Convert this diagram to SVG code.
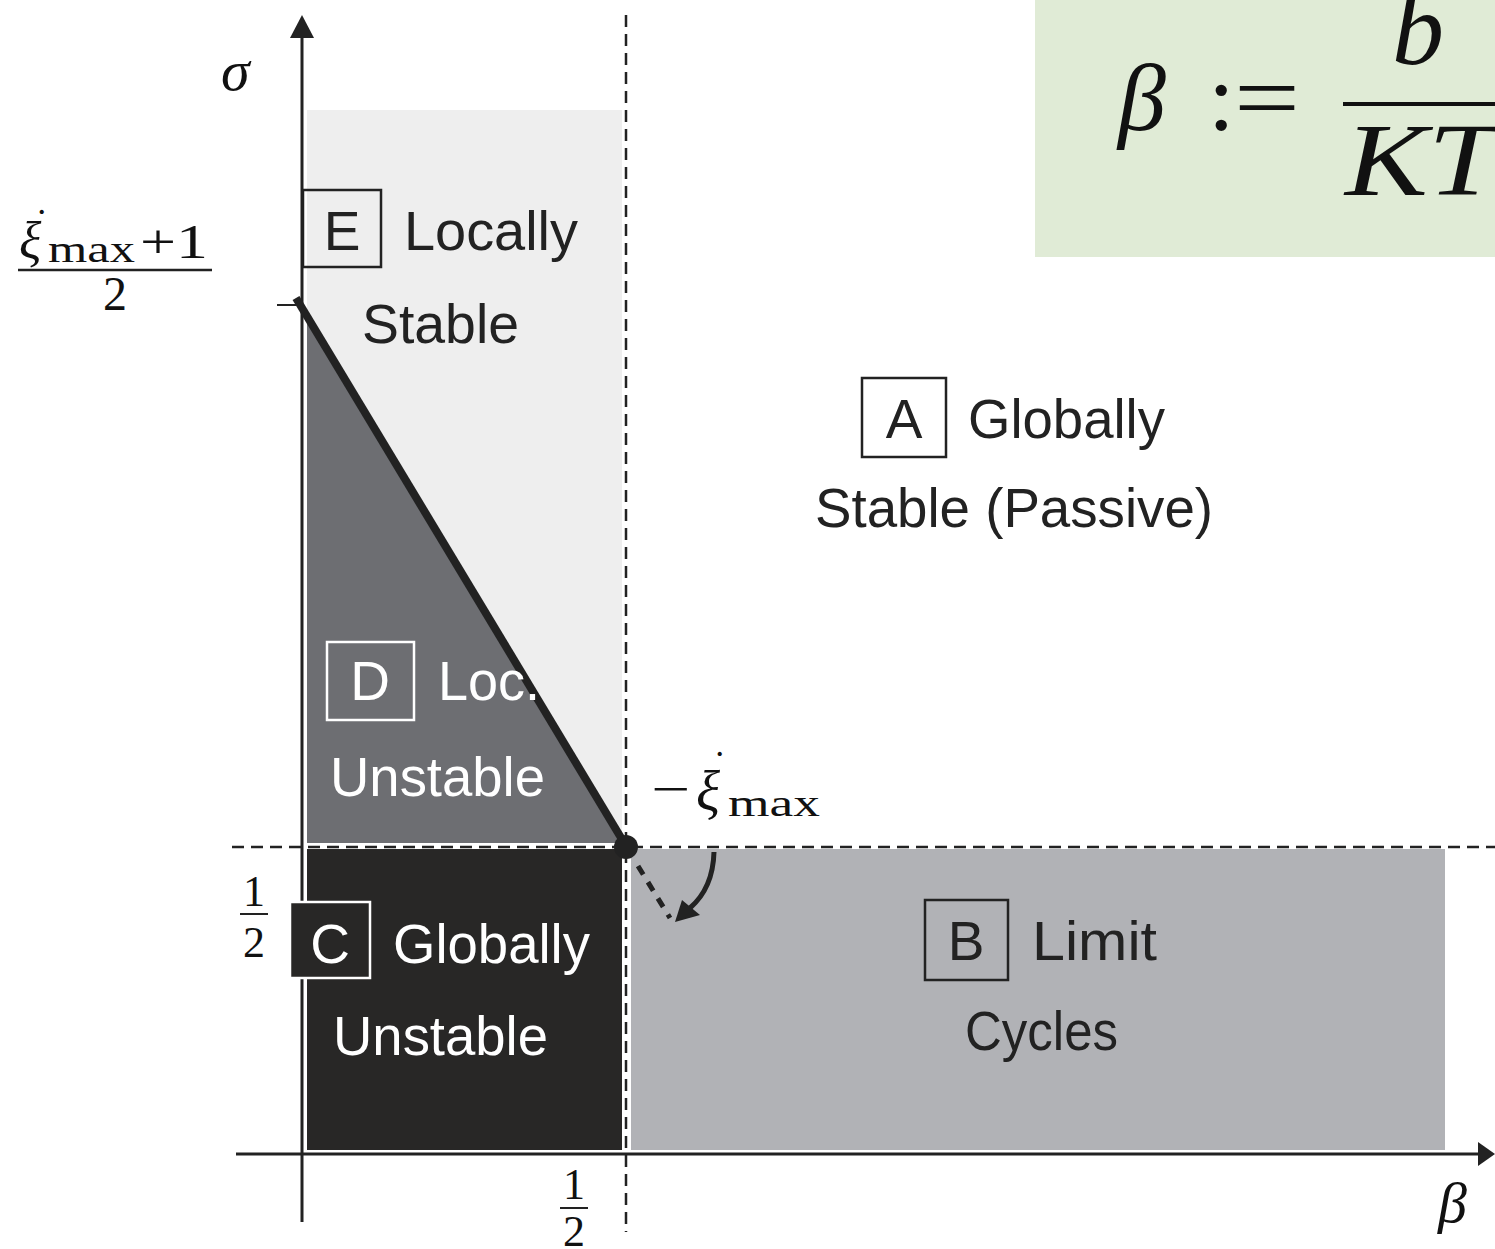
<svg xmlns="http://www.w3.org/2000/svg" width="1495" height="1249" viewBox="0 0 1495 1249">
<style>
.lab{font-family:"Liberation Sans",Arial,sans-serif;font-size:55px;fill:#222}
.w{fill:#fff}
.m{font-family:"Liberation Serif","Times New Roman",serif;fill:#111}
.mi{font-family:"Liberation Serif","Times New Roman",serif;font-style:italic;fill:#111}
.axis{stroke:#222;stroke-width:3;fill:none}
.dash{stroke:#222;stroke-width:2.5;stroke-dasharray:12,7;fill:none}
</style>
<rect width="1495" height="1249" fill="#fff"/>
<rect id="formula-bg" x="1035" y="0" width="460" height="257" fill="#e0ebd6"/>
<g id="regions">
<rect id="E-region" x="307" y="110" width="315" height="733" fill="#eeeeee"/>
<polygon id="D-region" points="307,316 624,843 307,843" fill="#6d6e72"/>
<rect id="C-region" x="307" y="849" width="315" height="301" fill="#282726"/>
<rect id="B-region" x="631" y="849" width="814" height="301" fill="#b1b2b6"/>
</g>
<g id="connectors">
<line class="dash" x1="626" y1="15" x2="626" y2="1232"/>
<line class="dash" x1="232" y1="847" x2="1495" y2="847"/>
<line class="axis" x1="302" y1="30" x2="302" y2="1222"/>
<polygon points="302,15 290,38 314,38" fill="#222"/>
<line class="axis" x1="236" y1="1154" x2="1480" y2="1154"/>
<polygon points="1495,1154 1478,1142 1478,1166" fill="#222"/>
<line x1="277" y1="305" x2="300" y2="305" stroke="#222" stroke-width="2"/>
<line x1="296" y1="298" x2="626" y2="846" stroke="#222" stroke-width="8"/>
<circle cx="626" cy="847" r="12" fill="#222"/>
<line x1="638" y1="866" x2="670" y2="918" stroke="#222" stroke-width="5" stroke-dasharray="10,9"/>
<path d="M714,852 Q713,888 690,908" stroke="#222" stroke-width="5" fill="none"/>
<polygon points="675,922 682,900 700,915" fill="#222"/>
</g>
<g id="node-E">
<rect x="303" y="190" width="78" height="77" fill="none" stroke="#222" stroke-width="2.5"/>
<text class="lab" x="342" y="250" text-anchor="middle">E</text>
<text class="lab" x="404" y="250" textLength="174" lengthAdjust="spacingAndGlyphs">Locally</text>
<text class="lab" x="362" y="343" textLength="157" lengthAdjust="spacingAndGlyphs">Stable</text>
</g>
<g id="node-A">
<rect x="862" y="378" width="84" height="79" fill="none" stroke="#222" stroke-width="2.5"/>
<text class="lab" x="904" y="438" text-anchor="middle">A</text>
<text class="lab" x="968" y="438" textLength="197" lengthAdjust="spacingAndGlyphs">Globally</text>
<text class="lab" x="815" y="527" textLength="398" lengthAdjust="spacingAndGlyphs">Stable (Passive)</text>
</g>
<g id="node-D">
<rect x="327" y="642" width="87" height="78" fill="none" stroke="#fff" stroke-width="2.5"/>
<text class="lab w" x="370" y="700" text-anchor="middle">D</text>
<text class="lab w" x="438" y="700" textLength="102" lengthAdjust="spacingAndGlyphs">Loc.</text>
<text class="lab w" x="330" y="796" textLength="215" lengthAdjust="spacingAndGlyphs">Unstable</text>
</g>
<g id="node-C">
<rect x="290" y="902" width="80" height="76" fill="#282726" stroke="#fff" stroke-width="2.5"/>
<text class="lab w" x="330" y="963" text-anchor="middle">C</text>
<text class="lab w" x="393" y="963" textLength="197" lengthAdjust="spacingAndGlyphs">Globally</text>
<text class="lab w" x="333" y="1055" textLength="215" lengthAdjust="spacingAndGlyphs">Unstable</text>
</g>
<g id="node-B">
<rect x="925" y="900" width="83" height="80" fill="none" stroke="#222" stroke-width="2.5"/>
<text class="lab" x="966" y="960" text-anchor="middle">B</text>
<text class="lab" x="1032" y="960" textLength="125" lengthAdjust="spacingAndGlyphs">Limit</text>
<text class="lab" x="965" y="1050" textLength="153" lengthAdjust="spacingAndGlyphs">Cycles</text>
</g>
<g id="math-labels">
<text class="mi" x="221" y="90" font-size="58">σ</text>
<text class="mi" x="19" y="258" font-size="52">ξ</text>
<text class="m" x="35" y="236" font-size="40">˙</text>
<text class="m" x="48" y="262" font-size="38" textLength="87" lengthAdjust="spacingAndGlyphs">max</text>
<text class="m" x="140" y="258" font-size="48" textLength="68" lengthAdjust="spacingAndGlyphs">+1</text>
<line x1="18" y1="270" x2="212" y2="270" stroke="#222" stroke-width="2.5"/>
<text class="m" x="115" y="310" font-size="48" text-anchor="middle">2</text>
<text class="m" x="651" y="806" font-size="50" textLength="39" lengthAdjust="spacingAndGlyphs">−</text>
<text class="mi" x="696" y="810" font-size="56">ξ</text>
<text class="m" x="713" y="778" font-size="40">˙</text>
<text class="m" x="728" y="816" font-size="38" textLength="92" lengthAdjust="spacingAndGlyphs">max</text>
<text class="m" x="254" y="906" font-size="44" text-anchor="middle">1</text>
<line x1="240" y1="914" x2="268" y2="914" stroke="#222" stroke-width="2"/>
<text class="m" x="254" y="957" font-size="44" text-anchor="middle">2</text>
<text class="m" x="574" y="1199" font-size="44" text-anchor="middle">1</text>
<line x1="560" y1="1208" x2="588" y2="1208" stroke="#222" stroke-width="2"/>
<text class="m" x="574" y="1246" font-size="44" text-anchor="middle">2</text>
<text class="mi" x="1438" y="1222" font-size="58">β</text>
</g>
<g id="formula">
<text class="mi" x="1118" y="130" font-size="96">β</text>
<text class="m" x="1208" y="130" font-size="96">:</text>
<text class="m" x="1234" y="130" font-size="96" textLength="66" lengthAdjust="spacingAndGlyphs">=</text>
<line x1="1343" y1="104" x2="1495" y2="104" stroke="#111" stroke-width="4"/>
<text class="mi" x="1392" y="64" font-size="104">b</text>
<text class="mi" x="1345" y="195" font-size="104" textLength="152" lengthAdjust="spacingAndGlyphs">KT</text>
</g>
</svg>
